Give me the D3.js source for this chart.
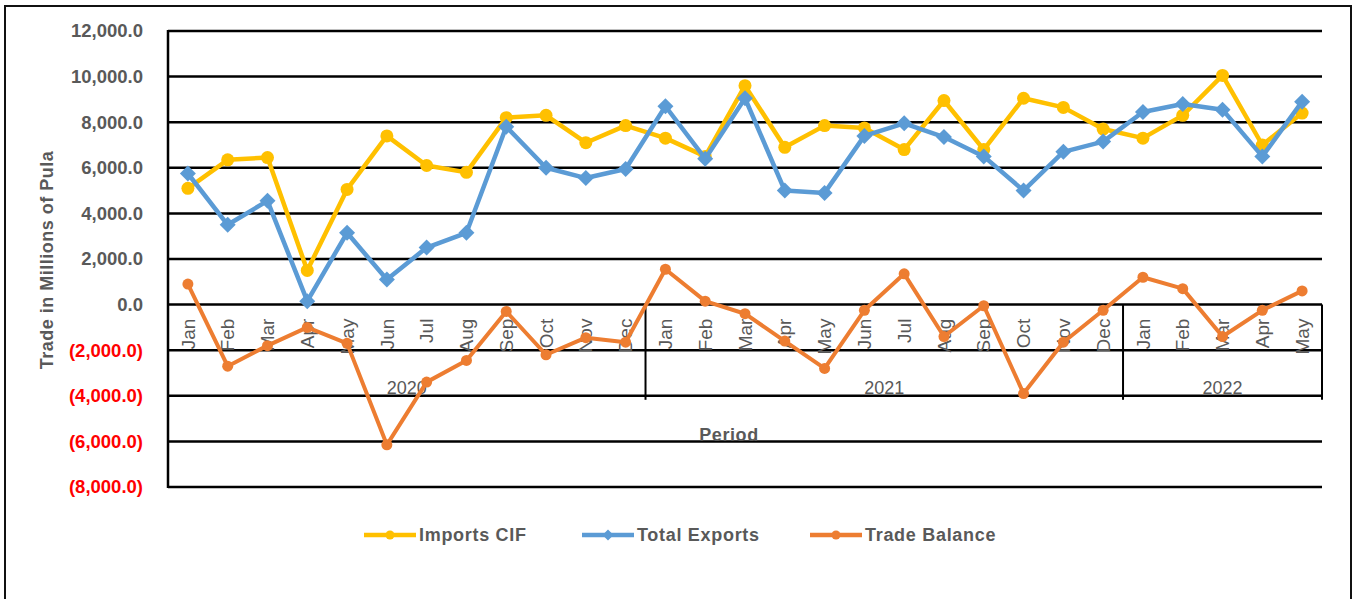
<!DOCTYPE html>
<html>
<head>
<meta charset="utf-8">
<script src="https://cdn.jsdelivr.net/npm/d3@7"></script>
<style>
  html, body { margin: 0; padding: 0; background: #fff; }
  svg { display: block; }
</style>
</head>
<body>
<div id="chart"></div>
<script>
// ---- data ----
const months = ["Jan","Feb","Mar","Apr","May","Jun","Jul","Aug","Sep","Oct","Nov","Dec",
                "Jan","Feb","Mar","Apr","May","Jun","Jul","Aug","Sep","Oct","Nov","Dec",
                "Jan","Feb","Mar","Apr","May"];
const years = ["2020","2021","2022"];
const yearCounts = [12, 12, 5];
const importsCIF = [5100, 6350, 6450, 1500, 5050, 7400, 6100, 5800, 8200, 8300, 7100, 7850,
                    7300, 6500, 9600, 6900, 7850, 7750, 6800, 8950, 6800, 9050, 8650, 7700,
                    7300, 8300, 10050, 7000, 8400];
const totalExports = [5750, 3500, 4550, 150, 3150, 1100, 2500, 3150, 7800, 6000, 5550, 5950,
                      8700, 6400, 9050, 5000, 4900, 7400, 7950, 7350, 6500, 5000, 6700, 7150,
                      8450, 8800, 8550, 6500, 8900];
const tradeBalance = [900, -2700, -1800, -1000, -1700, -6150, -3400, -2450, -300, -2200, -1450, -1650,
                      1550, 150, -400, -1600, -2800, -250, 1350, -1400, -50, -3900, -1650, -250,
                      1200, 700, -1400, -250, 600];
const yTicks = [-8000, -6000, -4000, -2000, 0, 2000, 4000, 6000, 8000, 10000, 12000];
const seriesNames = ["Imports CIF", "Total Exports", "Trade Balance"];

// ---- layout ----
const W = 1355, H = 599;
const L = 168, R = 1322, T = 31, B = 487;
const grey = "#595959";
const colors = ["#FFC000", "#5B9BD5", "#ED7D31"];
const font = "'Liberation Sans', Arial, sans-serif";

const svg = d3.select("#chart").append("svg").attr("width", W).attr("height", H);
svg.append("rect").attr("width", W).attr("height", H).attr("fill", "#fff");
svg.append("rect").attr("x", 5).attr("y", 6).attr("width", 1346).attr("height", 620)
  .attr("fill", "none").attr("stroke", "#111").attr("stroke-width", 2);

const x = d3.scaleBand().domain(d3.range(months.length)).range([L, R]).padding(0);
const y = d3.scaleLinear().domain([-8000, 12000]).range([B, T]);
const cx = i => x(i) + x.bandwidth() / 2;

// gridlines
svg.append("g").selectAll("line").data(yTicks).join("line")
  .attr("x1", L).attr("x2", R).attr("y1", d => y(d)).attr("y2", d => y(d))
  .attr("stroke", "#000").attr("stroke-width", 2.5);

// left axis
svg.append("line").attr("x1", L).attr("x2", L).attr("y1", T - 1).attr("y2", B + 1)
  .attr("stroke", "#000").attr("stroke-width", 2.5);

// y tick labels
const fmt = d3.format(",.1f");
svg.append("g").selectAll("text").data(yTicks).join("text")
  .attr("x", 143).attr("y", d => y(d)).attr("dy", "0.35em")
  .attr("text-anchor", "end")
  .attr("font-family", font).attr("font-weight", "bold").attr("font-size", 18.5)
  .attr("fill", d => d < 0 ? "#FF0000" : grey)
  .text(d => d < 0 ? "(" + fmt(-d) + ")" : fmt(d));

// y axis title
svg.append("text")
  .attr("transform", "translate(53,260) rotate(-90)")
  .attr("text-anchor", "middle")
  .attr("font-family", font).attr("font-weight", "bold").attr("font-size", 18)
  .attr("letter-spacing", 0.5)
  .attr("fill", grey).text("Trade in Millions of Pula");

// category axis: group separators
const y0 = y(0);
const sepIdx = [0];
yearCounts.reduce((acc, c) => { sepIdx.push(acc + c); return acc + c; }, 0);
svg.append("g").selectAll("line").data(sepIdx).join("line")
  .attr("x1", d => d < months.length ? x(d) : R)
  .attr("x2", d => d < months.length ? x(d) : R)
  .attr("y1", y0).attr("y2", y(-4000) + 4)
  .attr("stroke", "#000").attr("stroke-width", 2);

// month labels
svg.append("g").selectAll("text").data(months).join("text")
  .attr("transform", (d, i) => `translate(${cx(i)},${y0 + 14}) rotate(-90)`)
  .attr("text-anchor", "end").attr("dy", "0.35em")
  .attr("font-family", font).attr("font-size", 19).attr("fill", grey)
  .text(d => d);

// year labels
svg.append("g").selectAll("text").data(years).join("text")
  .attr("x", (d, i) => (x(sepIdx[i]) + (sepIdx[i + 1] < months.length ? x(sepIdx[i + 1]) : R)) / 2)
  .attr("y", 394)
  .attr("text-anchor", "middle")
  .attr("font-family", font).attr("font-size", 18).attr("fill", grey)
  .text(d => d);

// x axis title
svg.append("text").attr("x", 729).attr("y", 441).attr("text-anchor", "middle")
  .attr("font-family", font).attr("font-weight", "bold").attr("font-size", 18)
  .attr("letter-spacing", 0.6)
  .attr("fill", grey).text("Period");

// series
const allSeries = [importsCIF, totalExports, tradeBalance];
const line = d3.line().x((d, i) => cx(i)).y(d => y(d));
const diamond = s => `M0,${-s}L${s},0L0,${s}L${-s},0Z`;

allSeries.forEach((vals, k) => {
  const g = svg.append("g");
  g.append("path").datum(vals).attr("d", line)
    .attr("fill", "none").attr("stroke", colors[k])
    .attr("stroke-width", k === 2 ? 4 : 4.5).attr("stroke-linejoin", "round");
  if (k === 1) {
    g.selectAll("path.m").data(vals).join("path").attr("class", "m")
      .attr("transform", (d, i) => `translate(${cx(i)},${y(d)})`)
      .attr("d", diamond(8)).attr("fill", colors[k]);
  } else {
    g.selectAll("circle").data(vals).join("circle")
      .attr("cx", (d, i) => cx(i)).attr("cy", d => y(d))
      .attr("r", k === 2 ? 5.5 : 6.5).attr("fill", colors[k]);
  }
});

// legend
const legX = [364, 582, 810];
const legY = 535;
seriesNames.forEach((name, k) => {
  const g = svg.append("g").attr("transform", `translate(${legX[k]},${legY})`);
  g.append("line").attr("x1", 0).attr("x2", 52).attr("y1", 0).attr("y2", 0)
    .attr("stroke", colors[k]).attr("stroke-width", 4.5);
  if (k === 1) g.append("path").attr("transform", "translate(26,0)").attr("d", diamond(5.5)).attr("fill", colors[k]);
  else g.append("circle").attr("cx", 26).attr("cy", 0).attr("r", 4.5).attr("fill", colors[k]);
  g.append("text").attr("x", 55).attr("y", 0).attr("dy", "0.35em")
    .attr("font-family", font).attr("font-weight", "bold").attr("font-size", 18)
    .attr("letter-spacing", 0.7)
    .attr("fill", grey).text(name);
});
</script>
</body>
</html>
